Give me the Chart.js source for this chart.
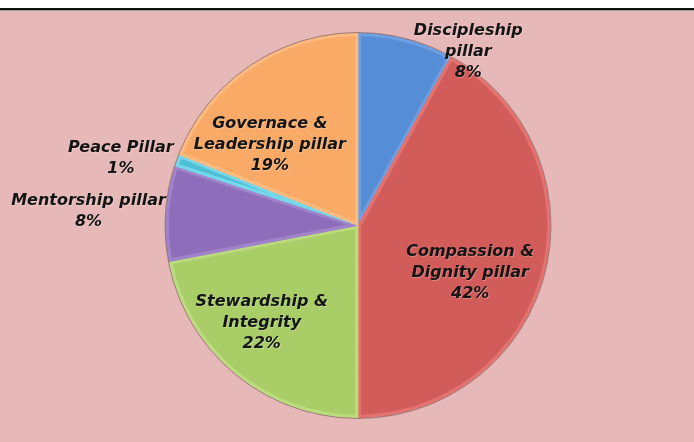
<!DOCTYPE html>
<html><head><meta charset="utf-8">
<script src="https://cdn.jsdelivr.net/npm/chart.js@4"></script>
<style>
html,body{margin:0;padding:0;width:694px;height:442px;overflow:hidden;background:#E6B9B8;}
#band{position:absolute;left:0;top:0;width:694px;height:8px;background:#fff;border-bottom:2px solid #111;box-shadow:0 1px 0 #999;z-index:2;}
#wrap{position:absolute;left:0;top:0;width:694px;height:442px;}
</style></head>
<body>
<div id="band"></div>
<div id="wrap"><canvas id="c" width="694" height="442"></canvas></div>
<script>
const categories = ["Discipleship pillar","Compassion & Dignity pillar","Stewardship & Integrity","Mentorship pillar","Peace Pillar","Governace & Leadership pillar"];
const labelLines = [["Discipleship","pillar"],["Compassion &","Dignity pillar"],["Stewardship &","Integrity"],["Mentorship pillar"],["Peace Pillar"],["Governace &","Leadership pillar"]];
const values = [8,42,22,8,1,19];
const colors = ["#558DD6","#D25C59","#A9CE68","#8E6EBA","#4FBFD6","#F8AA66"];
const lightColors = ["#6E9FE0","#E47370","#BBDC7E","#A083CA","#76D6EA","#FBBA80"];
// label placement as fraction of radius from center (layout only)
const labelPos = [[0.573,-0.90],[0.583,0.245],[-0.50,0.505],[-1.40,-0.075],[-1.232,-0.35],[-0.458,-0.42]];

const rimPlugin = {
  id:'rim',
  afterDatasetsDraw(chart){
    const a = chart.getDatasetMeta(0).data[0];
    const ctx = chart.ctx;
    ctx.save();
    ctx.beginPath();
    ctx.arc(a.x, a.y, a.outerRadius+0.5, 0, Math.PI*2);
    ctx.strokeStyle = 'rgba(90,60,60,0.5)';
    ctx.lineWidth = 1;
    ctx.stroke();
    ctx.restore();
  }
};

const labelPlugin = {
  id:'pieLabels',
  afterDatasetsDraw(chart){
    const ctx = chart.ctx;
    const meta = chart.getDatasetMeta(0);
    const arc0 = meta.data[0];
    const cx = arc0.x, cy = arc0.y, r = arc0.outerRadius;
    ctx.save();
    ctx.font = 'italic bold 16px "DejaVu Sans", sans-serif';
    ctx.textAlign = 'center';
    ctx.textBaseline = 'middle';
    const total = values.reduce((a,b)=>a+b,0);
    meta.data.forEach((el,i)=>{
      const lines = labelLines[i].concat([Math.round(values[i]/total*100)+'%']);
      const x = cx + labelPos[i][0]*r;
      const y = cy + labelPos[i][1]*r;
      const lh = 21;
      lines.forEach((t,k)=>{
        const yy = y + (k-(lines.length-1)/2)*lh;
        ctx.fillStyle = 'rgba(255,255,255,0.25)';
        ctx.fillText(t, x+0.8, yy+0.8);
        ctx.fillStyle = '#141414';
        ctx.fillText(t, x, yy);
      });
    });
    ctx.restore();
  }
};

new Chart(document.getElementById('c'), {
  type:'pie',
  data:{
    labels: categories,
    datasets:[{
      data: values,
      backgroundColor: colors,
      borderColor: lightColors,
      borderWidth: 3,
      borderAlign: 'inner'
    }]
  },
  options:{
    responsive:false,
    animation:false,
    devicePixelRatio:1,
    layout:{padding:{top:33,bottom:24,left:22,right:0}},
    plugins:{legend:{display:false},tooltip:{enabled:false}}
  },
  plugins:[rimPlugin,labelPlugin]
});
</script>
</body></html>
